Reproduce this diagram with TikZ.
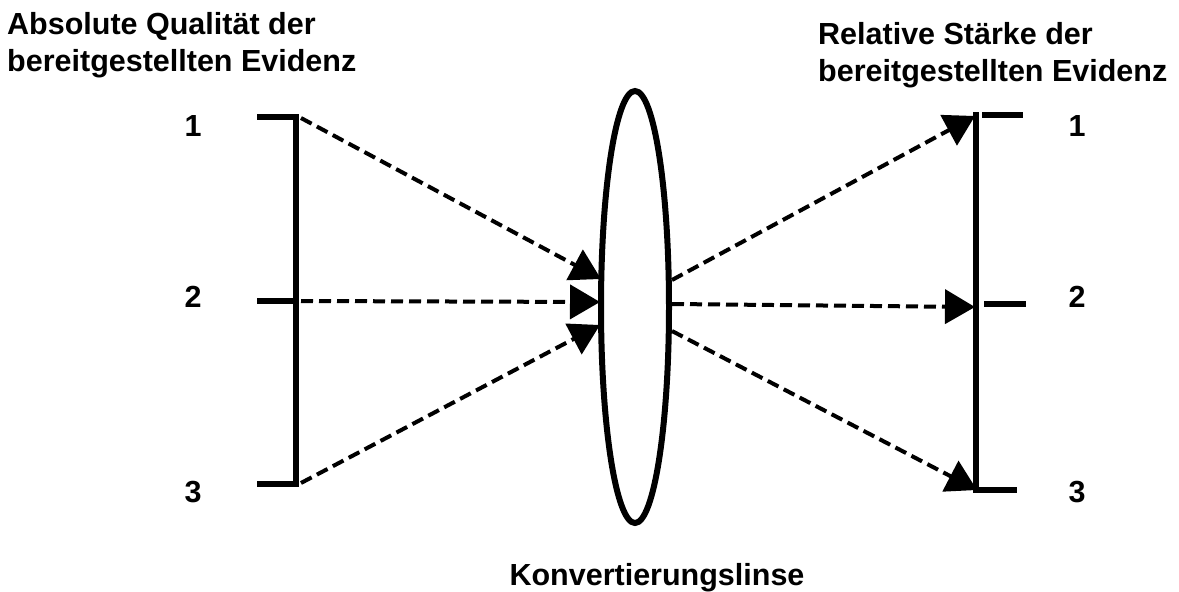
\documentclass[tikz,border=0pt]{standalone}
\usepackage{fontspec}
\setmainfont{Liberation Sans}
\usetikzlibrary{arrows.meta,shapes.geometric}
\begin{document}
\begin{tikzpicture}[x=1pt,y=-1pt,
  lbl/.style={font=\fontsize{30.5}{37}\selectfont\bfseries, inner sep=0pt, align=left},
  num/.style={font=\fontsize{30.5}{37}\selectfont\bfseries, inner sep=0pt, anchor=base},
  bar/.style={line width=6.5pt},
  ray/.style={line width=4pt, dash pattern=on 12pt off 6pt, -{Triangle[length=30pt,width=34pt]}},
  lensstyle/.style={draw, ellipse, line width=6pt, minimum width=68pt, minimum height=432pt, inner sep=0pt},
]
\useasboundingbox (0,0) rectangle (1179,592);

% left scale
\coordinate (LT) at (296,114);
\coordinate (LB) at (296,487);
\coordinate (L1) at (296,117);
\coordinate (L2) at (296,301);
\coordinate (L3) at (296,484);
\coordinate (L1a) at (257,117);
\coordinate (L2a) at (257,301);
\coordinate (L3a) at (257,484);
\draw[bar] (LT) -- (LB);
\draw[bar] (L1a) -- (L1);
\draw[bar] (L2a) -- (L2);
\draw[bar] (L3a) -- (L3);

% right scale
\coordinate (RT) at (976,112);
\coordinate (RB) at (976,493);
\coordinate (R1) at (982,115);
\coordinate (R2) at (984,304);
\coordinate (R3) at (976,490);
\coordinate (R1a) at (1023,115);
\coordinate (R2a) at (1026,304);
\coordinate (R3a) at (1017,490);
\draw[bar] (RT) -- (RB);
\draw[bar] (R1) -- (R1a);
\draw[bar] (R2) -- (R2a);
\draw[bar] (R3) -- (R3a);

% ray endpoints
\coordinate (S1) at (301,118);
\coordinate (S2) at (301,301);
\coordinate (S3) at (301,483);
\coordinate (E1) at (601,279);
\coordinate (E2) at (600,302);
\coordinate (E3) at (600,325);
\coordinate (F1) at (672,280);
\coordinate (F2) at (672,304);
\coordinate (F3) at (672,331);
\coordinate (G1) at (975,116);
\coordinate (G2) at (975,307);
\coordinate (G3) at (977,490);

\draw[ray] (S1) -- (E1);
\draw[ray] (S2) -- (E2);
\draw[ray] (S3) -- (E3);
\draw[ray] (F1) -- (G1);
\draw[ray] (F2) -- (G2);
\draw[ray] (F3) -- (G3);

% lens
\node[lensstyle] (lens) at (635,307) {};

% labels
\node[lbl, anchor=base west] (titleL) at (7,71) {Absolute Qualität der\\bereitgestellten Evidenz};
\node[lbl, anchor=base west] (titleR) at (818,81) {Relative Stärke der\\bereitgestellten Evidenz};
\node[num] (nl1) at (193,136) {1};
\node[num] (nl2) at (193,307) {2};
\node[num] (nl3) at (193,502) {3};
\node[num] (nr1) at (1077,136) {1};
\node[num] (nr2) at (1077,307) {2};
\node[num] (nr3) at (1077,502) {3};
\node[num] (lenslabel) at (657,585) {Konvertierungslinse};
\end{tikzpicture}
\end{document}
